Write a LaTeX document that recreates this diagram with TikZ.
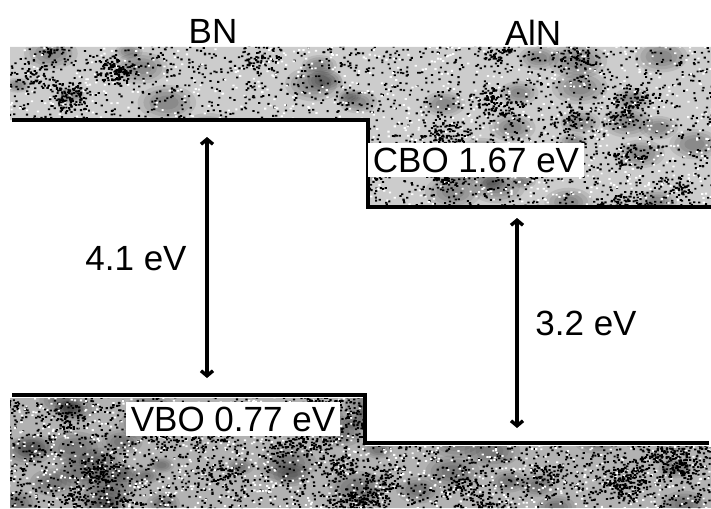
\documentclass[tikz,border=0pt]{standalone}
\usepackage{fontspec}
\setmainfont{Liberation Sans}
\usetikzlibrary{arrows.meta}
\newcommand{\speckle}[6]{% x0 y0 x1 y1 chunks colour
  \foreach \c in {1,...,#5}{%
    \fill[#6] foreach \k in {1,...,80} {({#1+rnd*(#3-#1)},{#2+rnd*(#4-#2)}) rectangle ++(2.2,1.8)};
  }}
\newcommand{\blobs}[7]{% x0 y0 x1 y1 nblobs ndots spread
  \foreach \b in {1,...,#5}{%
    \pgfmathsetmacro\bx{#1+rnd*(#3-#1)}%
    \pgfmathsetmacro\by{#2+rnd*(#4-#2)}%
    \fill[black] foreach \k in {1,...,#6} {({\bx+#7*(rand+rand)},{\by+0.6*#7*(rand+rand)}) rectangle ++(2.2,1.8)};
  }}
\newcommand{\darkpatch}[5]{% x0 y0 x1 y1 n : soft dark patches
  \foreach \b in {1,...,#5}{%
    \pgfmathsetmacro\bx{#1+rnd*(#3-#1)}%
    \pgfmathsetmacro\by{#2+rnd*(#4-#2)}%
    \pgfmathsetmacro\br{12+rnd*18}%
    \foreach \s in {1,0.8,0.6,0.4}{%
      \fill[black,opacity=0.09] (\bx,\by) ellipse[x radius=\s*\br, y radius=0.6*\s*\br];
    }
  }}
\begin{document}
\begin{tikzpicture}[x=1pt,y=-1pt,
  lbl/.style={font=\fontsize{35}{40}\selectfont, inner sep=0pt},
  boxlbl/.style={lbl, fill=white, inner xsep=5pt, inner ysep=5pt},
  band/.style={line width=3.6pt},
  gaparrow/.style={line width=3.4pt,
    {Straight Barb[length=5pt,width=12pt]}-{Straight Barb[length=5pt,width=12pt]}}]
\useasboundingbox (0,0) rectangle (711,508);
\pgfmathsetseed{4711}
% top (conduction band) noise
\begin{scope}
  \clip (10,47) rectangle (368,120) (368,47) rectangle (711,207);
  \fill[black!20] (0,40) rectangle (711,210);
  \darkpatch{0}{45}{711}{205}{45}
  \speckle{0}{40}{711}{210}{30}{black}
  \speckle{0}{40}{711}{210}{15}{white}
  \blobs{0}{45}{711}{205}{30}{60}{13}
\end{scope}
% bottom (valence band) noise
\begin{scope}
  \clip (10,398) rectangle (365,508) (365,446) rectangle (711,508);
  \fill[black!30] (0,395) rectangle (711,508);
  \darkpatch{0}{400}{711}{508}{45}
  \speckle{0}{395}{711}{508}{32}{black}
  \speckle{0}{395}{711}{508}{15}{white}
  \blobs{0}{400}{711}{508}{35}{60}{13}
\end{scope}
% band edges
\draw[band] (12,120) -- (368,120) -- (368,207) -- (711,207);
\draw[band] (12,395) -- (365,395) -- (365,443) -- (709,443);
% labels
\node[lbl] (bn) at (213,31) {BN};
\node[lbl] (aln) at (533,33) {AlN};
\node[boxlbl] (cbo) at (476,160) {CBO 1.67 eV};
\node[boxlbl] (vbo) at (233,419) {VBO 0.77 eV};
\node[lbl] (gapbn) at (136,259) {4.1 eV};
\node[lbl] (gapaln) at (586,323) {3.2 eV};
% gap arrows
\coordinate (bntop) at (207,137);
\coordinate (bnbot) at (207,378);
\coordinate (alntop) at (517,218);
\coordinate (alnbot) at (517,428);
\draw[gaparrow] (bntop) -- (bnbot);
\draw[gaparrow] (alntop) -- (alnbot);
\end{tikzpicture}
\end{document}
